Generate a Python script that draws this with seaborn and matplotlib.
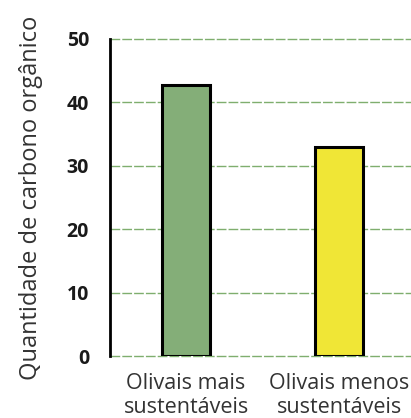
import pandas as pd
import seaborn as sns
import matplotlib.pyplot as plt

categories = ['Olivais mais\nsustentáveis', 'Olivais menos\nsustentáveis']
values = [42.7, 32.9]
colors = ['#84ae78', '#f0e636']
yticks = [0, 10, 20, 30, 40, 50]

df = pd.DataFrame({'cat': categories, 'val': values})

sns.set_style('white')
plt.rcParams['font.family'] = ['Open Sans', 'DejaVu Sans']

fig = plt.figure(figsize=(4.11, 4.18), dpi=100)
ax = fig.add_axes([0.2676, 0.1483, 0.7324, 0.7584])

sns.barplot(data=df, x='cat', y='val', hue='cat', palette=colors, legend=False,
            saturation=1, width=0.31, edgecolor='black', linewidth=2.2, ax=ax, zorder=3)

ax.set_ylim(0, 50)
ax.set_xlim(-0.497, 1.47)
ax.set_yticks(yticks)
ax.set_yticklabels([str(t) for t in yticks], fontsize=14, fontweight='bold', color='#1a1a1a')
ax.tick_params(axis='y', length=0, pad=15)
ax.tick_params(axis='x', length=0, pad=12, labelsize=15.5, labelcolor='#333333')
ax.yaxis.grid(True, color='#7fae6e', linestyle=(0, (7, 1.5)), linewidth=1.0, zorder=0)
for gl in ax.get_ygridlines():
    gl.set_clip_on(False)
ax.set_axisbelow(True)

for s in ['top', 'right', 'bottom']:
    ax.spines[s].set_visible(False)
ax.spines['left'].set_color('black')
ax.spines['left'].set_linewidth(2)
ax.spines['left'].set_zorder(4)

ax.set_xlabel('')
ax.set_ylabel('Quantidade de carbono orgânico', fontsize=17, color='#333333', labelpad=17)

plt.savefig('out.png', dpi=100)
